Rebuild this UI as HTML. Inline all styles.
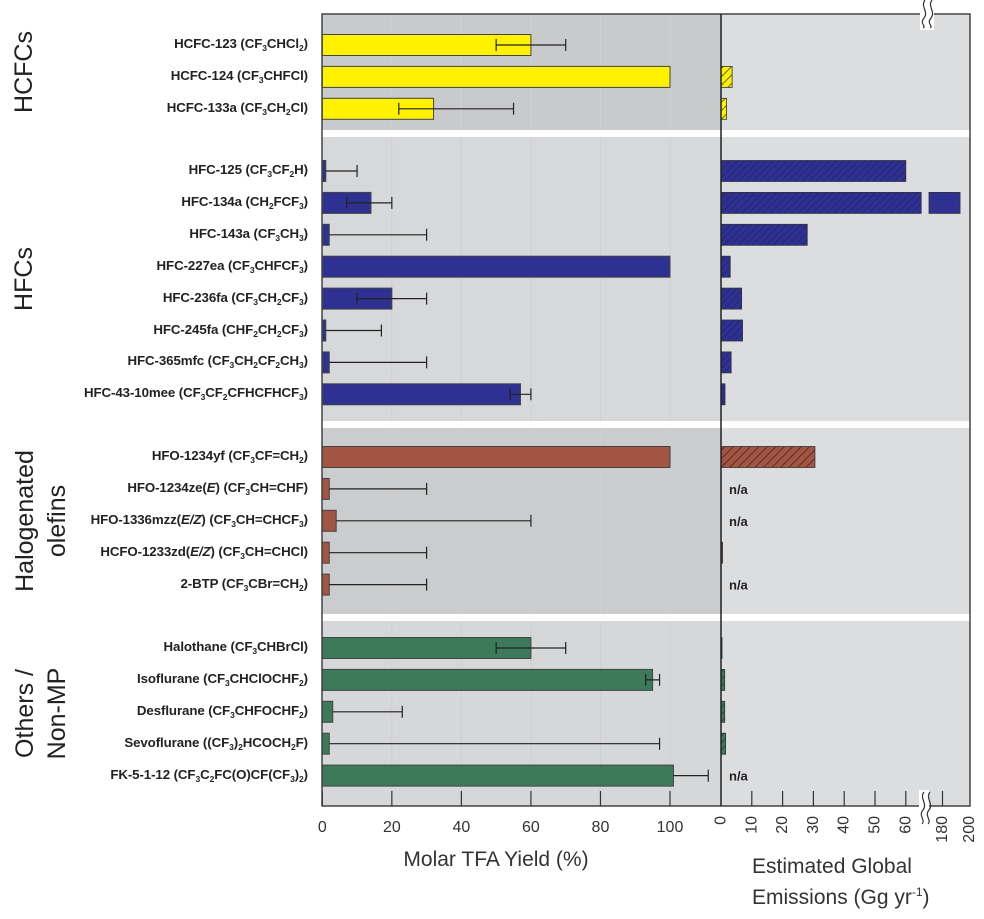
<!DOCTYPE html>
<html><head><meta charset="utf-8"><style>
body{margin:0;background:#fff;}
svg{display:block;font-family:"Liberation Sans",Arial,sans-serif;}
</style></head><body>
<svg id="chart" width="984" height="919" viewBox="0 0 984 919">
<defs>
<pattern id="h-yellow" width="6" height="6" patternUnits="userSpaceOnUse" patternTransform="rotate(45)"><rect width="6" height="6" fill="#fff200"/><line x1="0" y1="0" x2="0" y2="6" stroke="#333" stroke-width="1.4"/></pattern>
<pattern id="h-blue" width="5" height="5" patternUnits="userSpaceOnUse" patternTransform="rotate(45)"><rect width="5" height="5" fill="#2e3192"/><line x1="0" y1="0" x2="0" y2="5" stroke="#1c1f66" stroke-width="1.2"/></pattern>
<pattern id="h-brown" width="6" height="6" patternUnits="userSpaceOnUse" patternTransform="rotate(45)"><rect width="6" height="6" fill="#a35544"/><line x1="0" y1="0" x2="0" y2="6" stroke="#3a1a14" stroke-width="1.4"/></pattern>
<pattern id="h-green" width="5" height="5" patternUnits="userSpaceOnUse" patternTransform="rotate(45)"><rect width="5" height="5" fill="#3d7a5a"/><line x1="0" y1="0" x2="0" y2="5" stroke="#1c3a2a" stroke-width="1.2"/></pattern>
</defs>
<g id="bg"></g>
<g id="marks"></g>
<g id="axes"></g>
</svg>
<script>
const names = ["HCFC-123 (CF<sub>3</sub>CHCl<sub>2</sub>)","HCFC-124 (CF<sub>3</sub>CHFCl)","HCFC-133a (CF<sub>3</sub>CH<sub>2</sub>Cl)",
"HFC-125 (CF<sub>3</sub>CF<sub>2</sub>H)","HFC-134a (CH<sub>2</sub>FCF<sub>3</sub>)","HFC-143a (CF<sub>3</sub>CH<sub>3</sub>)","HFC-227ea (CF<sub>3</sub>CHFCF<sub>3</sub>)","HFC-236fa (CF<sub>3</sub>CH<sub>2</sub>CF<sub>3</sub>)","HFC-245fa (CHF<sub>2</sub>CH<sub>2</sub>CF<sub>3</sub>)","HFC-365mfc (CF<sub>3</sub>CH<sub>2</sub>CF<sub>2</sub>CH<sub>3</sub>)","HFC-43-10mee (CF<sub>3</sub>CF<sub>2</sub>CFHCFHCF<sub>3</sub>)",
"HFO-1234yf (CF<sub>3</sub>CF=CH<sub>2</sub>)","HFO-1234ze(<i>E</i>) (CF<sub>3</sub>CH=CHF)","HFO-1336mzz(<i>E/Z</i>) (CF<sub>3</sub>CH=CHCF<sub>3</sub>)","HCFO-1233zd(<i>E/Z</i>) (CF<sub>3</sub>CH=CHCl)","2-BTP (CF<sub>3</sub>CBr=CH<sub>2</sub>)",
"Halothane (CF<sub>3</sub>CHBrCl)","Isoflurane (CF<sub>3</sub>CHClOCHF<sub>2</sub>)","Desflurane (CF<sub>3</sub>CHFOCHF<sub>2</sub>)","Sevoflurane ((CF<sub>3</sub>)<sub>2</sub>HCOCH<sub>2</sub>F)","FK-5-1-12 (CF<sub>3</sub>C<sub>2</sub>FC(O)CF(CF<sub>3</sub>)<sub>2</sub>)"];
const groupOf = [0,0,0,1,1,1,1,1,1,1,1,2,2,2,2,2,3,3,3,3,3];
const tfaYield = [60,100,32, 1,14,2,100,20,1,2,57, 100,2,4,2,2, 60,95,3,2,101];
const errLow  = [50,null,22, null,7,null,null,10,null,null,54, null,null,null,null,null, 50,93,null,null,null];
const errHigh = [70,null,55, 10,20,30,null,30,17,30,60, null,30,60,30,30, 70,97,23,97,111];
const emissions = [null,3.6,1.8, 60,193,28,3,6.7,7,3.3,1.3, 30.5,null,null,0.5,null, 0.3,1.2,1.2,1.5,null];
const notAvailable = [false,false,false, false,false,false,false,false,false,false,false, false,true,true,false,true, false,false,false,false,true];
const yieldTicks = [0,20,40,60,80,100];
const emisTicks = [0,10,20,30,40,50,60,180,200];
const groupNames = [["HCFCs"],["HFCs"],["Halogenated","olefins"],["Others /","Non-MP"]];

const NS="http://www.w3.org/2000/svg";
const colors=["#fff200","#2e3192","#a35544","#3d7a5a"];
const hatch=["url(#h-yellow)","url(#h-blue)","url(#h-brown)","url(#h-green)"];
const groupTop=[14,137,428,621], groupBot=[130,421,614,806];
const groupStartY=[45,171,457,648];
const L0=322,L1=721,R1=970,TOP=14,BOT=806;
function xL(v){return 322.3+v*3.477;}
function xR(v){return v<=65?721+v*3.08:929+(v-170)*1.35;}
function rowY(i){const g=groupOf[i];const first=groupOf.indexOf(g);return groupStartY[g]+(i-first)*31.9;}
function mk(tag,attrs,parent){const e=document.createElementNS(NS,tag);for(const k in attrs)e.setAttribute(k,attrs[k]);parent.appendChild(e);return e;}
const bg=document.getElementById('bg'),marks=document.getElementById('marks'),axes=document.getElementById('axes');
const leftBg=["#c9cacc","#d7d8da","#cbcccd","#d6d7d8"];
for(let g=0;g<4;g++){
  let r=mk('rect',{x:L0,y:groupTop[g],width:L1-L0,height:groupBot[g]-groupTop[g],fill:leftBg[g]},bg);
  
  
  r=mk('rect',{x:L1,y:groupTop[g],width:R1-L1,height:groupBot[g]-groupTop[g],fill:"#dcdddf"},bg);
  
  
  const lines=groupNames[g];const cy=(groupTop[g]+groupBot[g])/2;
  lines.forEach((s,k)=>{const x=lines.length>1?25+k*32:24;const t=mk('text',{x:x,y:cy,'font-size':25,fill:'#222','text-anchor':'middle','dominant-baseline':'central',transform:`rotate(-90 ${x} ${cy})`},bg);t.textContent=s;
  
  });
}
yieldTicks.slice(1).forEach(v=>{mk('line',{x1:xL(v),x2:xL(v),y1:TOP,y2:BOT,stroke:'#cfd0d2','stroke-width':1},bg);});
for(let i=0;i<names.length;i++){
  const y=rowY(i),g=groupOf[i],h=21;
  const fo=mk('foreignObject',{x:0,y:y-11,width:308,height:22},marks);
  
  
  fo.innerHTML=`<div xmlns="http://www.w3.org/1999/xhtml" style="font:bold 13.3px 'Liberation Sans',Arial,sans-serif;color:#222;text-align:right;line-height:20px;white-space:nowrap;letter-spacing:-0.1px;">${names[i].replace(/<sub>/g,'<sub style="font-size:8.5px;vertical-align:-3px">')}</div>`;
  const b=mk('rect',{x:xL(0),y:y-h/2,width:xL(tfaYield[i])-xL(0),height:h,fill:colors[g],stroke:'#444','stroke-width':1},marks);
  
  
  if(errHigh[i]!=null){
    const lo=errLow[i]!=null?errLow[i]:tfaYield[i];
    const e=mk('path',{d:`M${xL(lo)},${y}H${xL(errHigh[i])}M${xL(errHigh[i])},${y-6}V${y+6}`+(errLow[i]!=null?`M${xL(lo)},${y-6}V${y+6}`:''),stroke:'#222','stroke-width':1.2,fill:'none'},marks);
    
    
  }
  const v=emissions[i];
  if(notAvailable[i]){
    const t=mk('text',{x:729,y:y+5,'font-size':13,'font-weight':'bold',fill:'#222'},marks);t.textContent='n/a';
    
    
  } else if(v==null){
  } else if(v>65){
    const b1=mk('rect',{x:721,y:y-h/2,width:xR(65)-721,height:h,fill:hatch[g],stroke:'#333','stroke-width':0.8},marks);
    
    
    const b2=mk('rect',{x:xR(170),y:y-h/2,width:xR(v)-xR(170),height:h,fill:colors[g],stroke:'#333','stroke-width':0.8},marks);
    
    
  } else {
    const b1=mk('rect',{x:721,y:y-h/2,width:Math.max(xR(v)-721,1),height:h,fill:hatch[g],stroke:'#333','stroke-width':0.8},marks);
    
    
  }
}
[130,421,614].forEach(y=>{mk('rect',{x:L0,y:y,width:R1-L0,height:7,fill:'#fff'},axes);});
mk('rect',{x:L0,y:TOP,width:R1-L0,height:BOT-TOP,fill:'none',stroke:'#444','stroke-width':1.5},axes);
mk('line',{x1:L1,x2:L1,y1:TOP,y2:BOT,stroke:'#222','stroke-width':1.5},axes);
yieldTicks.forEach(v=>{
  mk('line',{x1:xL(v),x2:xL(v),y1:BOT,y2:BOT-15,stroke:'#333','stroke-width':1.2},axes);
  const t=mk('text',{x:xL(v),y:832,'font-size':16,fill:'#333','text-anchor':'middle'},axes);t.textContent=v;
  
  
});
emisTicks.forEach(v=>{
  const x=xR(v);
  if(v>0&&v<200)mk('line',{x1:x,x2:x,y1:BOT,y2:BOT-15,stroke:'#333','stroke-width':1.2},axes);
  const t=mk('text',{x:x,y:816,'font-size':16,fill:'#333','text-anchor':'end','dominant-baseline':'central',transform:`rotate(-90 ${x} 816)`},axes);t.textContent=v;
  
  
});
mk('rect',{x:919,y:790,width:10,height:30,fill:'#fff'},axes);
mk('path',{d:'M924,792c-5,6 4,12 -1,18s3,10 -1,14M930,792c-5,6 4,12 -1,18s3,10 -1,14',stroke:'#333','stroke-width':1.2,fill:'none'},axes);
mk('rect',{x:920,y:0,width:14,height:30,fill:'#fff'},axes);
mk('path',{d:'M925,0c-5,6 4,12 -1,18s3,8 -1,10M932,0c-5,6 4,12 -1,18s3,8 -1,10',stroke:'#333','stroke-width':1.2,fill:'none'},axes);
let t=mk('text',{x:496,y:866,'font-size':21,fill:'#333','text-anchor':'middle'},axes);t.textContent='Molar TFA Yield (%)';


t=mk('text',{x:752,y:873,'font-size':21,fill:'#333'},axes);t.textContent='Estimated Global';


t=mk('text',{x:752,y:904,'font-size':21,fill:'#333'},axes);t.innerHTML='Emissions (Gg yr<tspan dy="-8" font-size="12">-1</tspan><tspan dy="8">)</tspan>';


</script>
</body></html>
